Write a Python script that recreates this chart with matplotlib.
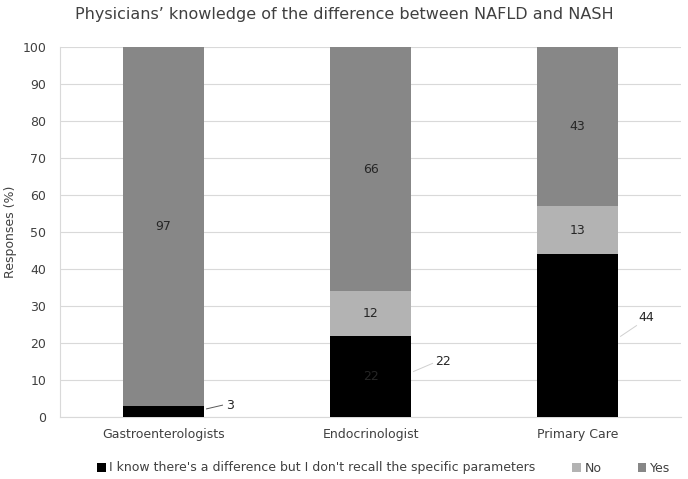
import matplotlib
matplotlib.use("Agg")
import matplotlib.pyplot as plt
import numpy as np

categories = ["Gastroenterologists", "Endocrinologist", "Primary Care"]
know_diff = [3, 22, 44]
no_vals = [0, 12, 13]
yes_vals = [97, 66, 43]
series_names = ["I know there's a difference but I don't recall the specific parameters", "No", "Yes"]
yticks = list(range(0, 101, 10))

colors = ["#000000", "#b3b3b3", "#878787"]
FS = 9

plt.rcParams['font.family'] = ['DejaVu Sans']
fig = plt.figure(figsize=(6.88, 4.79), dpi=100)
ax = fig.add_axes([60 / 688, 62 / 479, 621 / 688, 370 / 479])

x = np.arange(len(categories))
w = 0.396
b1 = ax.bar(x, know_diff, w, color=colors[0], label=series_names[0], zorder=3)
b2 = ax.bar(x, no_vals, w, bottom=know_diff, color=colors[1], label=series_names[1], zorder=3)
bottom3 = [a + b for a, b in zip(know_diff, no_vals)]
b3 = ax.bar(x, yes_vals, w, bottom=bottom3, color=colors[2], label=series_names[2], zorder=3)

ax.set_xlim(-0.5, len(categories) - 0.5)
ax.set_ylim(0, 100)
ax.set_yticks(yticks)
ax.set_xticks(x)
ax.set_xticklabels(categories, fontsize=FS, color="#404040")
ax.tick_params(axis='y', labelsize=FS, colors="#404040", length=0, pad=10)
ax.tick_params(axis='x', length=0, pad=8)
ax.grid(axis='y', color="#d9d9d9", linewidth=0.8, zorder=0)
for s in ["top", "right"]:
    ax.spines[s].set_visible(False)
ax.spines["bottom"].set_color("#d9d9d9")
ax.spines["left"].set_color("#d9d9d9")
ax.spines["left"].set_linewidth(0.8)
ax.set_ylabel("Responses (%)", fontsize=FS, color="#404040", labelpad=4)

# labels for No and Yes inside
for i in range(len(categories)):
    if no_vals[i] > 0:
        ax.text(x[i], know_diff[i] + no_vals[i] / 2, str(no_vals[i]), ha='center', va='center',
                fontsize=FS, color="#262626", zorder=4)
    ax.text(x[i], bottom3[i] + yes_vals[i] / 2, str(yes_vals[i]), ha='center', va='center',
            fontsize=FS, color="#262626", zorder=4)

# inside label for endocrinologist black segment (barely visible)
ax.text(x[1], know_diff[1] / 2, str(know_diff[1]), ha='center', va='center',
        fontsize=FS, color="#262626", zorder=4)

# outside labels with leader lines: (line x0, y0, x1, y1, text x, text y) relative to bar center
leaders = [
    (0.208, 2.2, 0.285, 3.2, 0.300, 3.0, "#595959"),
    (0.208, 12.3, 0.300, 14.5, 0.312, 15.1, "#d0d0d0"),
    (0.208, 21.8, 0.285, 24.7, 0.292, 26.9, "#d0d0d0"),
]
for i, (lx0, ly0, lx1, ly1, tx, ty, lc) in enumerate(leaders):
    ax.plot([x[i] + lx0, x[i] + lx1], [ly0, ly1], color=lc, lw=0.7, zorder=4)
    ax.text(x[i] + tx, ty, str(know_diff[i]), ha='left', va='center', fontsize=FS,
            color="#262626", zorder=4)

fig.text(0.5, 1 - 14 / 479, "Physicians\u2019 knowledge of the difference between NAFLD and NASH",
         fontsize=11.5, color="#404040", ha='center', va='center')

leg = fig.legend(handles=[b1, b2, b3], labels=series_names, loc='center',
                 bbox_to_anchor=(383.5 / 688, 1 - 468 / 479), ncol=3, frameon=False, fontsize=FS,
                 handlelength=0.7, handleheight=0.7, handletextpad=0.3, columnspacing=2.9)
for t in leg.get_texts():
    t.set_color("#404040")

fig.savefig("out.png", dpi=100)
